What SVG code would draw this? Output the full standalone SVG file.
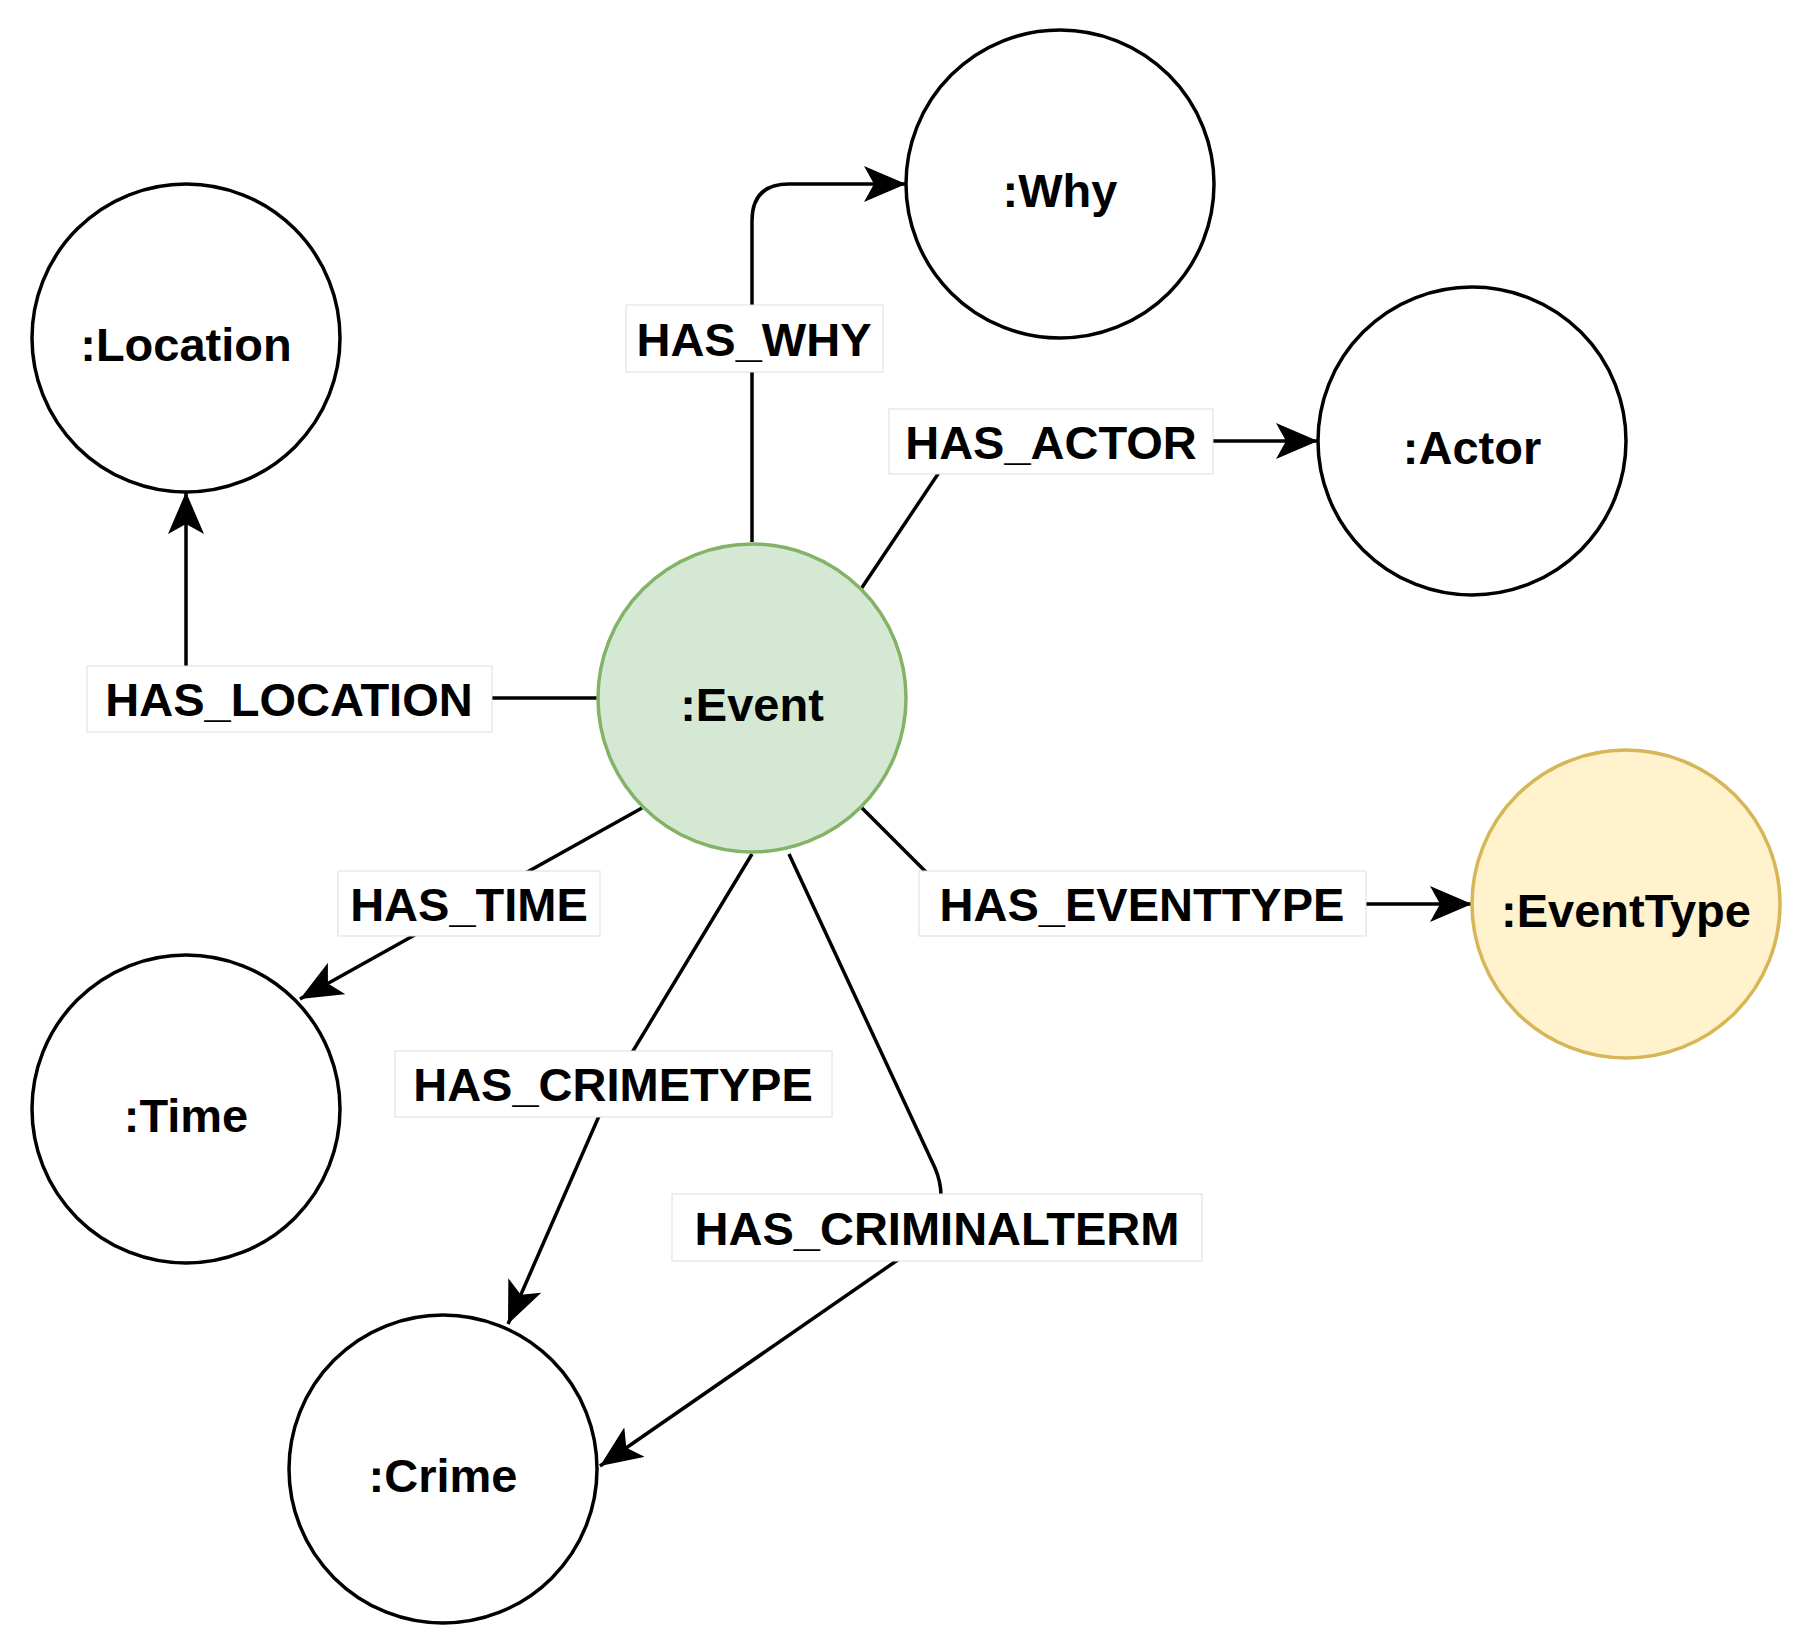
<svg xmlns="http://www.w3.org/2000/svg" width="1812" height="1648" viewBox="0 0 1812 1648">
<style>
.n{fill:#fff;stroke:#000;stroke-width:3.5}
.t{font-family:"Liberation Sans",Arial,sans-serif;font-weight:bold;font-size:47px;text-anchor:middle;dominant-baseline:central}
.e{fill:none;stroke:#000;stroke-width:3.5}
.lb{fill:#fff;stroke:#ddd;stroke-width:1}
</style>
<defs>
<marker id="a" markerUnits="userSpaceOnUse" markerWidth="44" markerHeight="36" refX="42" refY="18" orient="auto">
<path d="M0,0 L42,18 L0,36 L10,18 Z" fill="#000"/>
</marker>
</defs>
<rect width="1812" height="1648" fill="#fff"/>
<g id="connectors">
<path class="e" d="M752,542 L752,221 Q752,184 789,184 L906,184" marker-end="url(#a)"/>
<path class="e" d="M861,589 L938,474 L940,441 L1318,441" marker-end="url(#a)"/>
<path class="e" d="M598,698 L196,698 Q186,698 186,686 L186,492" marker-end="url(#a)"/>
<path class="e" d="M642,808 L300,999" marker-end="url(#a)"/>
<path class="e" d="M861,807 L926,872 L926,904 L1472,904" marker-end="url(#a)"/>
<path class="e" d="M752,854 L613,1084 L508,1324" marker-end="url(#a)"/>
<path class="e" d="M789,854 L935,1168 Q941,1182 941,1196 L941,1230 L600,1466" marker-end="url(#a)"/>
</g>
<g id="labels">
<rect class="lb" x="626" y="305" width="257" height="67"/><text class="t" x="754" y="339">HAS_WHY</text>
<rect class="lb" x="889" y="409" width="324" height="65"/><text class="t" x="1051" y="442">HAS_ACTOR</text>
<rect class="lb" x="87" y="666" width="405" height="66"/><text class="t" x="289" y="699">HAS_LOCATION</text>
<rect class="lb" x="338" y="871" width="262" height="65"/><text class="t" x="469" y="904">HAS_TIME</text>
<rect class="lb" x="919" y="871" width="447" height="65"/><text class="t" x="1142" y="904">HAS_EVENTTYPE</text>
<rect class="lb" x="395" y="1051" width="437" height="66"/><text class="t" x="613" y="1084">HAS_CRIMETYPE</text>
<rect class="lb" x="672" y="1194" width="530" height="67"/><text class="t" x="937" y="1228">HAS_CRIMINALTERM</text>
</g>
<g id="event"><circle cx="752" cy="698" r="154" fill="#d5e8d4" stroke="#82b366" stroke-width="3.5"/><text class="t" x="752" y="704">:Event</text></g>
<g id="why"><circle class="n" cx="1060" cy="184" r="154"/><text class="t" x="1060" y="190">:Why</text></g>
<g id="location"><circle class="n" cx="186" cy="338" r="154"/><text class="t" x="186" y="344">:Location</text></g>
<g id="actor"><circle class="n" cx="1472" cy="441" r="154"/><text class="t" x="1472" y="447">:Actor</text></g>
<g id="eventtype"><circle cx="1626" cy="904" r="154" fill="#fff2cc" stroke="#d6b656" stroke-width="3.5"/><text class="t" x="1626" y="910">:EventType</text></g>
<g id="time"><circle class="n" cx="186" cy="1109" r="154"/><text class="t" x="186" y="1115">:Time</text></g>
<g id="crime"><circle class="n" cx="443" cy="1469" r="154"/><text class="t" x="443" y="1475">:Crime</text></g>
</svg>
